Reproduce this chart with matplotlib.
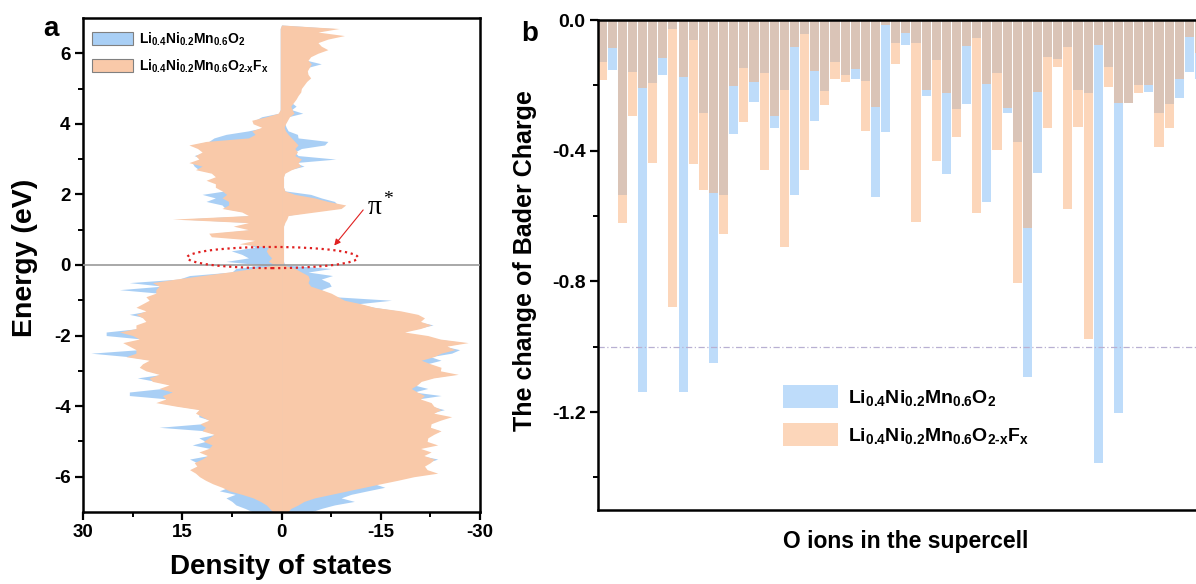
import numpy as np
import matplotlib
matplotlib.use("Agg")
import matplotlib.pyplot as plt
from matplotlib.patches import Ellipse

plt.rcParams['font.family'] = ['Liberation Sans', 'DejaVu Sans']
plt.rcParams['font.weight'] = 'bold'
plt.rcParams['axes.labelweight'] = 'bold'
plt.rcParams['axes.unicode_minus'] = False
plt.rcParams['mathtext.fontset'] = 'custom'
plt.rcParams['mathtext.rm'] = 'Liberation Sans:bold'
plt.rcParams['mathtext.bf'] = 'Liberation Sans:bold'
plt.rcParams['mathtext.it'] = 'Liberation Sans:bold'

label_pristine = r'Li$_{0.4}$Ni$_{0.2}$Mn$_{0.6}$O$_{2}$'
label_doped = r'Li$_{0.4}$Ni$_{0.2}$Mn$_{0.6}$O$_{\text{2-x}}$F$_{\text{x}}$'

# ---- panel a: DOS (energy grid -7.0 ... 6.9 eV, step 0.1) ----
energy = np.round(np.arange(-7.0, 6.95, 0.1), 1)

dos_up_doped = [
    1.3, 1.8, 2.3, 3.2, 4.3, 6.0, 7.9, 9.0, 10.4, 11.5,
    12.4, 13.0, 13.9, 12.8, 13.2, 12.0, 11.2, 12.5, 11.0, 10.5,
    11.8, 11.0, 10.2, 12.0, 11.5, 12.3, 11.0, 12.0, 13.0, 12.5,
    16.0, 19.0, 17.5, 18.0, 16.5, 18.5, 17.0, 19.5, 20.0, 18.5,
    20.5, 21.5, 21.0, 20.0, 23.5, 22.0, 22.0, 23.0, 24.0, 21.5,
    22.5, 24.5, 22.0, 22.0, 20.5, 21.0, 22.0, 20.5, 22.0, 21.0,
    20.0, 20.5, 19.0, 19.0, 18.5, 19.5, 16.0, 12.0, 8.0, 4.3,
    1.0, 2.0, 1.5, 2.0, 2.3, 2.0, 6.4, 4.0, 10.6, 11.0,
    5.0, 7.3, 5.0, 16.5, 5.0, 6.0, 9.0, 8.0, 8.0, 9.0,
    8.3, 9.0, 10.0, 10.0, 11.4, 10.0, 10.6, 13.0, 12.0, 14.0,
    12.5, 13.0, 12.0, 12.7, 14.0, 11.4, 5.0, 4.0, 4.5, 3.0,
    4.3, 4.5, 2.3, 0.5, 0.2, 0.2, 0.2, 0.2, 0.2, 0.2,
    0.2, 0.2, 0.2, 0.2, 0.2, 0.2, 0.2, 0.2, 0.2, 0.2,
    0.2, 0.2, 0.2, 0.2, 0.2, 0.2, 0.2, 0.2, 0.0, 0.0,
]
dos_up_pristine = [
    4.3, 5.5, 6.9, 7.5, 8.4, 7.0, 9.4, 8.0, 10.0, 11.0,
    12.0, 12.5, 13.5, 12.5, 12.8, 13.9, 11.0, 12.0, 10.8, 13.5,
    11.5, 12.5, 10.0, 11.5, 18.5, 12.0, 10.8, 12.5, 12.5, 12.0,
    15.5, 18.5, 17.0, 23.0, 23.0, 18.0, 16.5, 19.0, 21.8, 18.0,
    20.0, 21.0, 20.5, 19.5, 23.0, 28.8, 21.5, 22.5, 23.5, 21.0,
    26.5, 26.5, 21.5, 21.5, 20.0, 20.5, 23.0, 20.0, 21.5, 20.5,
    19.5, 20.0, 18.5, 24.5, 18.0, 23.0, 15.5, 13.9, 7.5, 6.9,
    3.0, 8.4, 5.0, 6.0, 7.6, 4.0, 5.0, 3.5, 9.0, 10.0,
    4.5, 6.5, 4.5, 15.0, 4.5, 5.5, 8.5, 9.0, 11.4, 10.0,
    12.0, 8.5, 9.5, 6.5, 11.0, 9.5, 10.0, 12.5, 13.2, 13.5,
    12.0, 13.2, 11.5, 12.0, 13.5, 11.0, 10.2, 8.4, 5.0, 2.5,
    4.0, 4.0, 3.0, 0.4, 0.2, 0.2, 0.2, 0.2, 0.2, 0.2,
    0.2, 0.2, 0.2, 0.2, 0.2, 0.2, 0.2, 0.2, 0.2, 0.2,
    0.2, 0.2, 0.2, 0.2, 0.2, 0.2, 0.2, 0.2, 0.0, 0.0,
]
dos_dn_doped = [
    0.9, 1.4, 2.5, 3.4, 5.0, 7.5, 10.0, 12.5, 15.0, 17.6,
    20.0, 23.6, 22.0, 21.6, 22.5, 23.1, 21.5, 22.6, 21.0, 23.6,
    22.0, 22.1, 23.0, 24.1, 22.5, 22.6, 24.0, 25.7, 23.0, 24.1,
    23.0, 22.6, 21.0, 21.6, 20.5, 19.6, 20.5, 21.1, 23.0, 26.7,
    24.0, 24.1, 22.5, 21.1, 23.0, 24.1, 26.2, 25.0, 28.2, 24.0,
    22.1, 18.6, 21.0, 22.6, 21.0, 21.6, 20.6, 18.0, 14.0, 12.0,
    9.5, 8.5, 7.5, 6.0, 4.4, 4.0, 4.2, 4.0, 3.0, 2.0,
    0.3, 0.3, 0.3, 0.3, 0.3, 0.3, 0.3, 0.3, 0.3, 0.3,
    0.3, 0.3, 0.5, 0.8, 1.0, 5.0, 9.0, 9.7, 7.0, 5.0,
    2.0, 0.5, 0.3, 0.3, 0.3, 0.3, 0.5, 1.5, 2.9, 2.5,
    3.0, 2.0, 2.4, 2.0, 2.5, 2.0, 1.5, 1.0, 0.6, 0.4,
    0.6, 0.9, 1.2, 1.9, 1.6, 1.4, 1.8, 2.2, 2.5, 2.9,
    3.0, 3.4, 3.8, 4.4, 4.0, 3.9, 4.2, 4.5, 4.0, 4.4,
    5.5, 7.0, 6.0, 5.5, 7.0, 9.5, 5.5, 8.7, 0.0, 0.0,
]
dos_dn_pristine = [
    4.4, 6.0, 8.0, 11.0, 9.0, 10.5, 13.0, 15.6, 14.0, 16.5,
    19.0, 21.0, 21.0, 21.0, 22.0, 23.6, 21.0, 22.0, 20.5, 23.0,
    21.5, 21.8, 22.5, 24.0, 22.0, 22.0, 23.5, 25.0, 22.5, 24.6,
    22.5, 22.0, 20.5, 24.1, 20.0, 22.1, 20.0, 20.5, 22.5, 26.0,
    23.5, 23.5, 22.0, 24.1, 22.5, 25.7, 26.9, 24.5, 27.5, 23.5,
    19.6, 18.0, 20.5, 22.9, 20.5, 21.0, 19.6, 17.5, 14.0, 11.5,
    16.6, 8.0, 7.0, 6.0, 7.5, 7.2, 6.0, 7.7, 4.0, 7.5,
    0.5, 0.3, 0.3, 0.3, 0.3, 0.3, 0.3, 0.3, 0.3, 0.3,
    0.3, 0.3, 0.4, 0.6, 0.8, 4.0, 8.0, 8.5, 8.0, 6.0,
    4.4, 0.5, 0.3, 0.3, 0.3, 0.3, 0.4, 1.2, 3.4, 2.0,
    8.2, 2.5, 2.0, 3.0, 6.5, 7.0, 2.5, 2.4, 1.0, 0.7,
    0.5, 0.8, 1.0, 3.2, 1.5, 2.2, 1.5, 2.0, 2.2, 2.5,
    2.8, 3.0, 3.5, 4.2, 3.8, 3.5, 4.0, 6.0, 3.8, 4.0,
    5.0, 5.5, 5.8, 5.0, 6.5, 7.5, 5.0, 8.0, 0.0, 0.0,
]

# ---- panel b: Bader charge change per O ion ----
o_ions = np.arange(1, 61)
bader_pristine = [
    -0.128, -0.153, -0.536, -0.158, -1.138, -0.192, -0.168, -0.026, -1.138, -0.061,
    -0.284, -1.049, -0.536, -0.349, -0.148, -0.250, -0.163, -0.332, -0.214, -0.537,
    -0.043, -0.308, -0.216, -0.128, -0.168, -0.179, -0.186, -0.541, -0.342, -0.071,
    -0.077, -0.071, -0.233, -0.122, -0.471, -0.272, -0.257, -0.056, -0.556, -0.161,
    -0.284, -0.372, -1.092, -0.469, -0.114, -0.120, -0.084, -0.214, -0.224, -1.355,
    -0.145, -1.202, -0.255, -0.199, -0.219, -0.284, -0.257, -0.240, -0.158, -0.180,
]
bader_doped = [
    -0.184, -0.087, -0.622, -0.294, -0.209, -0.437, -0.115, -0.878, -0.173, -0.441,
    -0.520, -0.531, -0.656, -0.202, -0.311, -0.189, -0.459, -0.294, -0.696, -0.084,
    -0.459, -0.155, -0.260, -0.179, -0.189, -0.151, -0.339, -0.267, -0.015, -0.135,
    -0.041, -0.618, -0.214, -0.432, -0.224, -0.357, -0.080, -0.590, -0.196, -0.398,
    -0.270, -0.806, -0.638, -0.219, -0.332, -0.143, -0.580, -0.329, -0.978, -0.077,
    -0.204, -0.255, -0.253, -0.222, -0.199, -0.388, -0.332, -0.179, -0.053, -0.100,
]

dos_blue = '#A9CFF5'
dos_orange = '#F9C9A9'
bar_blue = '#BEDCFA'
bar_orange = '#F9AA6F'

fig = plt.figure(figsize=(11.96, 5.84), dpi=100)

# ================= panel a =================
ax1 = fig.add_axes([0.0694, 0.1233, 0.332, 0.846])
h1 = ax1.fill_betweenx(energy, 0, dos_up_pristine, color=dos_blue, lw=0, label=label_pristine)
ax1.fill_betweenx(energy, 0, -np.array(dos_dn_pristine), color=dos_blue, lw=0)
h2 = ax1.fill_betweenx(energy, 0, dos_up_doped, color=dos_orange, lw=0, label=label_doped)
ax1.fill_betweenx(energy, 0, -np.array(dos_dn_doped), color=dos_orange, lw=0)
ax1.axhline(0, color='#9a9a9a', lw=1.2, zorder=3)

ax1.set_xlim(30, -30)
ax1.set_ylim(-7, 7)
ax1.set_xticks([30, 15, 0, -15, -30])
ax1.set_xticks([22.5, 7.5, -7.5, -22.5], minor=True)
ax1.set_yticks([-6, -4, -2, 0, 2, 4, 6])
ax1.set_yticks([-5, -3, -1, 1, 3, 5], minor=True)
ax1.tick_params(which='major', direction='out', length=6, width=1.6, labelsize=13.5, pad=3)
ax1.tick_params(which='minor', direction='out', length=3.5, width=1.4)
for s in ax1.spines.values():
    s.set_linewidth(1.8)
ax1.set_xlabel('Density of states', fontsize=20)
ax1.set_ylabel('Energy (eV)', fontsize=20.5)
ax1.xaxis.set_label_coords(0.5, -0.085)
ax1.yaxis.set_label_coords(-0.113, 0.514)

leg1 = ax1.legend(handles=[h1, h2], loc='upper left', bbox_to_anchor=(0.022, 0.975),
                  frameon=False, fontsize=10, handlelength=3.0, handleheight=1.1,
                  labelspacing=0.7, handletextpad=0.4, borderaxespad=0, borderpad=0)
for h in leg1.legend_handles:
    h.set_edgecolor('#808080')
    h.set_linewidth(0.8)

ell = Ellipse((1.36, 0.21), 25.8, 0.6, fill=False, edgecolor='#E02020', ls=':', lw=1.6, zorder=4)
ax1.add_patch(ell)
ax1.annotate('', xy=(-7.7, 0.49), xytext=(-12.6, 1.62),
             arrowprops=dict(arrowstyle='-|>', color='#E02020', lw=0.8, mutation_scale=9))
ax1.text(-13.0, 1.45, 'π', family=['Liberation Serif', 'DejaVu Serif'], fontsize=20,
         fontweight='normal', ha='left', va='baseline')
ax1.text(-15.3, 1.72, '*', family=['Liberation Serif', 'DejaVu Serif'], fontsize=14,
         fontweight='normal', ha='left', va='baseline')

# ================= panel b =================
ax2 = fig.add_axes([0.5, 0.1267, 0.5, 0.839])
b1 = ax2.bar(o_ions, bader_pristine, width=0.9, color=bar_blue, label=label_pristine)
b2 = ax2.bar(o_ions, bader_doped, width=0.9, color=bar_orange, alpha=0.48, label=label_doped)
ax2.axhline(-1.0, color='#B8B0D2', lw=0.9, dashes=(5, 2, 1, 2))

ax2.set_xlim(0.6, 59.65)
ax2.set_ylim(-1.5, 0)
ax2.set_xticks([])
ax2.set_yticks([0.0, -0.4, -0.8, -1.2])
ax2.set_yticklabels(['0.0', '-0.4', '-0.8', '-1.2'])
ax2.set_yticks([-0.2, -0.6, -1.0, -1.4], minor=True)
ax2.tick_params(which='major', direction='out', length=6, width=1.6, labelsize=14, pad=3)
ax2.tick_params(which='minor', direction='out', length=3.5, width=1.4)
ax2.spines['right'].set_visible(False)
for s in ['left', 'top', 'bottom']:
    ax2.spines[s].set_linewidth(1.8)
    ax2.spines[s].set_zorder(5)
ax2.set_ylabel('The change of Bader Charge', fontsize=18)
ax2.set_xlabel('O ions in the supercell', fontsize=16.5)
ax2.yaxis.set_label_coords(-0.102, 0.51)
ax2.xaxis.set_label_coords(0.515, -0.041)

ax2.legend(handles=[b1, b2], loc='upper left', bbox_to_anchor=(0.309, 0.255),
           frameon=False, fontsize=14, handlelength=2.85, handleheight=1.45,
           labelspacing=0.75, handletextpad=0.5, borderaxespad=0, borderpad=0)

fig.text(0.0426, 0.950, 'a', fontsize=20, ha='center', va='center')
fig.text(0.443, 0.942, 'b', fontsize=20, ha='center', va='center')

fig.savefig('out.png', dpi=100)
